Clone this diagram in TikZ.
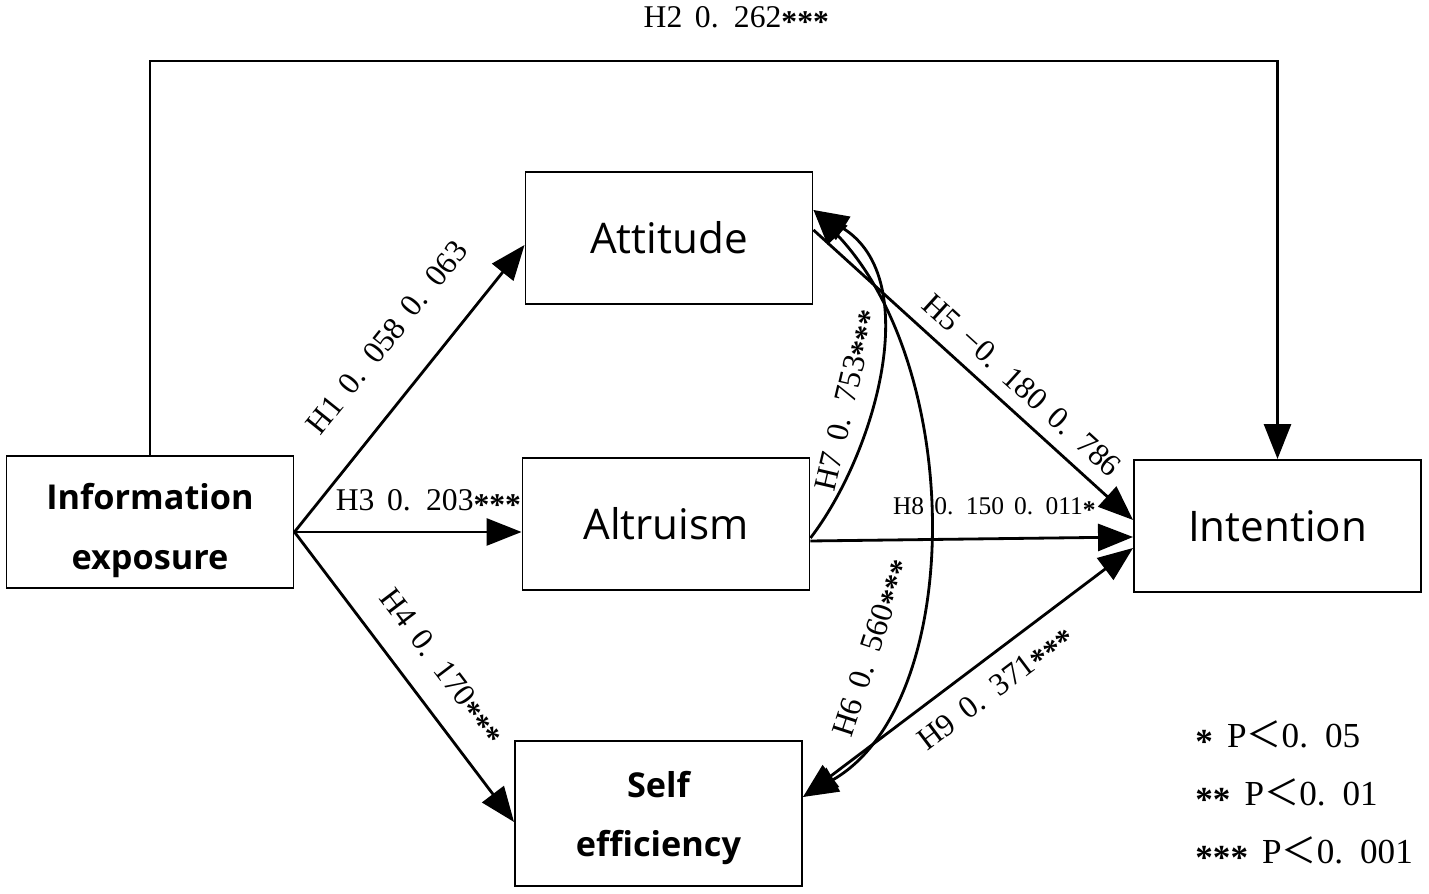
\documentclass[tikz,border=0pt]{standalone}
\usepackage{fontspec}
\setmainfont{Liberation Serif}[WordSpace=1.6]
\setsansfont{Open Sans}
\newfontfamily\cjkfont{Noto Sans CJK SC}
\usetikzlibrary{arrows.meta}
\newcommand{\plt}{{\cjkfont ＜}}
\newcommand{\stars}[1]{\raisebox{-0.35ex}{\bfseries #1}}

\begin{document}
\begin{tikzpicture}[
        box/.style={draw,line width=1.1pt,minimum width=5.74cm,minimum height=2.64cm,
          align=center,font=\sffamily\fontsize{24}{28}\selectfont},
        boldbox/.style={box,font=\sffamily\bfseries\fontsize{19.5}{34}\selectfont},
        arr/.style={line width=1.6pt,-{Triangle[length=7mm,width=5.4mm]}},
        dbl/.style={line width=1.6pt,{Triangle[length=7mm,width=5.4mm]}-{Triangle[length=7mm,width=5.4mm]}},
        lbl/.style={font=\fontsize{18}{20}\selectfont,inner sep=0pt},
        small/.style={font=\fontsize{14.5}{16}\selectfont,inner sep=0pt},
        legend/.style={font=\fontsize{20}{22}\selectfont,inner sep=0pt,anchor=west},
      ]
      \useasboundingbox (0,0) rectangle (28.58,17.88);
      \node[boldbox] (info) at (3.0,7.44) {\rule{0pt}{25pt}Information\\exposure};
      \node[box] (att) at (13.38,13.12) {Attitude};
      \node[box] (alt) at (13.32,7.40) {Altruism};
      \node[boldbox,minimum height=2.9cm] (self) at (13.17,1.61) {\rule{0pt}{20pt}Self\\efficiency};
      \node[box] (int) at (25.55,7.36) {Intention};
      \coordinate (src) at ([yshift=-0.2cm]info.east);

      \draw[arr] (info.north) -- ++(0,7.88) -| node[lbl,pos=.26,above=0.55cm] (l2) {H2 0. 262\stars{***}} (int.north);
      \draw[arr] (src) -- node[lbl,pos=.57,sloped,above=0.75cm] (l1) {H1 0. 058 0. 063} ([yshift=-0.14cm]att.west);
      \draw[arr] (src) -- node[lbl,pos=.59,above=0.3cm] (l3) {H3 0. 203\stars{***}} (src -| alt.west);
      \draw[arr] (src) -- node[lbl,pos=.54,sloped,above=0.4cm] (l4) {H4 0. 170\stars{***}} ([yshift=-0.17cm]self.west);
      \draw[arr] ([yshift=0.16cm]att.east) -- node[lbl,pos=.6,sloped,above=0.26cm] (l5) {H5 −0. 180 0. 786} ([yshift=0.12cm]int.west);
      \draw[arr] ([yshift=-0.34cm]alt.east) -- node[small,pos=.57,above=0.38cm] (l8) {H8 0. 150 0. 011\stars{*}} ([yshift=-0.22cm]int.west);
      \draw[dbl] ([yshift=0.33cm]self.east) -- node[lbl,pos=.53,sloped,below=0.33cm] (l9) {H9 0. 371\stars{***}} ([yshift=-0.44cm]int.west);
      \draw[arr] ([yshift=-0.28cm]alt.east) .. controls (17.5,8.8) and (18.5,12.3) .. node[lbl,pos=.4,sloped,above=0.2cm] (l7) {H7 0. 753\stars{***}} ([yshift=0.56cm]att.east);
      \draw[dbl] ([yshift=0.56cm]att.east) .. controls (19.3,10.5) and (19.3,3.8) .. node[lbl,pos=.7,sloped,above=0.4cm] (l6) {H6 0. 560\stars{***}} ([yshift=0.33cm]self.east);

      \node[legend] (p1) at (23.9,3.14) {\stars{*} P\plt 0. 05};
      \node[legend] (p2) at (23.9,1.98) {\stars{**} P\plt 0. 01};
      \node[legend] (p3) at (23.9,0.82) {\stars{***} P\plt 0. 001};
      \end{tikzpicture}
\end{document}
